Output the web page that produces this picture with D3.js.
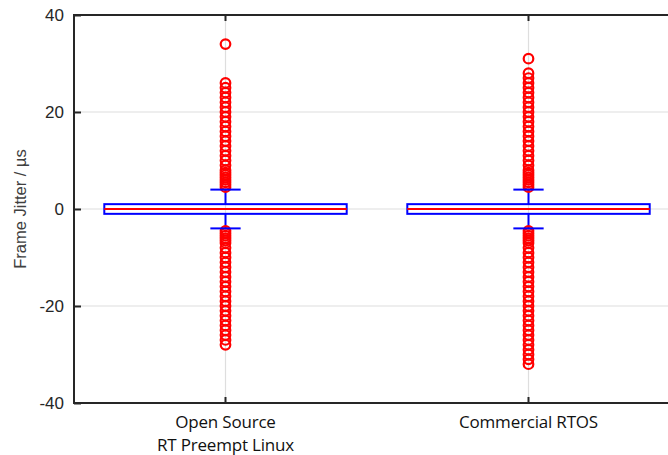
<!DOCTYPE html>
<html lang="en">
<head>
<meta charset="UTF-8">
<title>Frame Jitter Boxplot</title>
<script src="https://d3js.org/d3.v7.min.js"></script>
<style>
  body { margin: 0; background: #fff; }
  svg { display: block; font-family: "Liberation Sans", Arial, sans-serif; }
</style>
</head>
<body>
<script>
// categories and box statistics (µs)
const categories = ["Open Source\nRT Preempt Linux", "Commercial RTOS"];
const q1 = [-1, -1];
const median = [0, 0];
const q3 = [1, 1];
const whiskLow = [-4, -4];
const whiskHigh = [4, 4];

// outliers
const outliersLinux = [34, 26, 25, 24, 23, 22, 21, 20, 19, 18, 17, 16, 15, 14, 13, 12, 11, 10, 9, 8, 7.5, 7, 6.5, 6, 5.5, 5, 4.5,
  -4.5, -5, -5.5, -6, -6.5, -7, -8, -9, -10, -11, -12, -13, -14, -15, -16, -17, -18, -19, -20, -21, -22, -23, -24, -25, -26, -27, -28];
const outliersRtos = [31, 28, 27, 26, 25, 24, 23, 22, 21, 20, 19, 18, 17, 16, 15, 14, 13, 12, 11, 10, 9, 8, 7.5, 7, 6.5, 6, 5.5, 5, 4.5,
  -4.5, -5, -5.5, -6, -6.5, -7, -8, -9, -10, -11, -12, -13, -14, -15, -16, -17, -18, -19, -20, -21, -22, -23, -24, -25, -26, -27, -28, -29, -30, -31, -32];
const outliers = [outliersLinux, outliersRtos];

const yTicks = [-40, -20, 0, 20, 40];

const width = 668, height = 455;
const margin = { left: 74, top: 15, bottom: 52 };

const svg = d3.select("body").append("svg")
  .attr("width", width)
  .attr("height", height);

// x: category positions 1..2, limits 0.5..2.5
const x = d3.scaleLinear().domain([0.5, 2.5]).range([margin.left, margin.left + 606]);
const y = d3.scaleLinear().domain([-40, 40]).range([height - margin.bottom, margin.top]);

const plotRight = x(2.5);
const boxHalf = 0.4, capHalf = 0.05;

// grid
const grid = svg.append("g").attr("stroke", "#dedede").attr("stroke-width", 1.2);
grid.selectAll(".gy").data(yTicks.slice(1, -1)).enter().append("line")
  .attr("x1", x(0.5)).attr("x2", plotRight)
  .attr("y1", d => y(d)).attr("y2", d => y(d));
grid.selectAll(".gx").data(categories).enter().append("line")
  .attr("x1", (d, i) => x(i + 1)).attr("x2", (d, i) => x(i + 1))
  .attr("y1", y(40)).attr("y2", y(-40));

// boxes
const boxes = svg.append("g").selectAll("g").data(categories).enter().append("g");

boxes.each(function(d, i) {
  const g = d3.select(this);
  const cx = x(i + 1);
  // whiskers
  g.append("line").attr("x1", cx).attr("x2", cx)
    .attr("y1", y(q3[i])).attr("y2", y(whiskHigh[i]))
    .attr("stroke", "#0000ff").attr("stroke-width", 2);
  g.append("line").attr("x1", cx).attr("x2", cx)
    .attr("y1", y(q1[i])).attr("y2", y(whiskLow[i]))
    .attr("stroke", "#0000ff").attr("stroke-width", 2);
  // outliers
  g.selectAll("circle").data(outliers[i]).enter().append("circle")
    .attr("cx", cx).attr("cy", v => y(v)).attr("r", 4.8)
    .attr("fill", "none").attr("stroke", "#ff0000").attr("stroke-width", 2.2);
  // caps
  [whiskHigh[i], whiskLow[i]].forEach(v => {
    g.append("line")
      .attr("x1", x(i + 1 - capHalf)).attr("x2", x(i + 1 + capHalf))
      .attr("y1", y(v)).attr("y2", y(v))
      .attr("stroke", "#0000ff").attr("stroke-width", 2);
  });
  // box
  g.append("rect")
    .attr("x", x(i + 1 - boxHalf)).attr("width", x(i + 1 + boxHalf) - x(i + 1 - boxHalf))
    .attr("y", y(q3[i])).attr("height", y(q1[i]) - y(q3[i]))
    .attr("fill", "none").attr("stroke", "#0000ff").attr("stroke-width", 2);
  // median
  g.append("line")
    .attr("x1", x(i + 1 - boxHalf)).attr("x2", x(i + 1 + boxHalf))
    .attr("y1", y(median[i])).attr("y2", y(median[i]))
    .attr("stroke", "#ff0000").attr("stroke-width", 2);
});

// axes frame
const axisColor = "#262626";
svg.append("g")
  .attr("transform", `translate(${margin.left},0)`)
  .call(d3.axisLeft(y).tickValues(yTicks).tickFormat(d => String(d)).tickSize(-7).tickPadding(10))
  .call(g => g.select(".domain").remove())
  .call(g => g.selectAll("line").attr("stroke", axisColor).attr("stroke-width", 2))
  .call(g => g.selectAll("text").attr("fill", axisColor).style("font-size", "17px"));

svg.append("g")
  .attr("fill", "none").attr("stroke", axisColor).attr("stroke-width", 2)
  .call(g => g.append("line").attr("x1", x(0.5)).attr("x2", x(0.5)).attr("y1", y(40) - 1).attr("y2", y(-40) + 1))
  .call(g => g.append("line").attr("x1", x(0.5)).attr("x2", plotRight).attr("y1", y(40)).attr("y2", y(40)))
  .call(g => g.append("line").attr("x1", x(0.5)).attr("x2", plotRight).attr("y1", y(-40)).attr("y2", y(-40)));

// x ticks (inward) and category labels
const xt = svg.append("g");
categories.forEach((c, i) => {
  const cx = x(i + 1);
  xt.append("line").attr("x1", cx).attr("x2", cx).attr("y1", y(-40)).attr("y2", y(-40) - 6)
    .attr("stroke", axisColor).attr("stroke-width", 2);
  xt.append("line").attr("x1", cx).attr("x2", cx).attr("y1", y(40)).attr("y2", y(40) + 6)
    .attr("stroke", axisColor).attr("stroke-width", 2);
  const t = xt.append("text").attr("x", cx).attr("y", 428)
    .attr("text-anchor", "middle").attr("fill", "#111")
    .style("font-family", "'Open Sans', sans-serif").style("font-size", "17px")
    .style("letter-spacing", "-0.2px");
  c.split("\n").forEach((line, k) => {
    t.append("tspan").attr("x", cx).attr("dy", k === 0 ? 0 : 23).text(line);
  });
});

// y label
svg.append("text")
  .attr("transform", `translate(26,${y(0)}) rotate(-90)`)
  .attr("text-anchor", "middle")
  .attr("fill", "#404040")
  .style("font-size", "16.5px")
  .text("Frame Jitter / µs");
</script>
</body>
</html>
